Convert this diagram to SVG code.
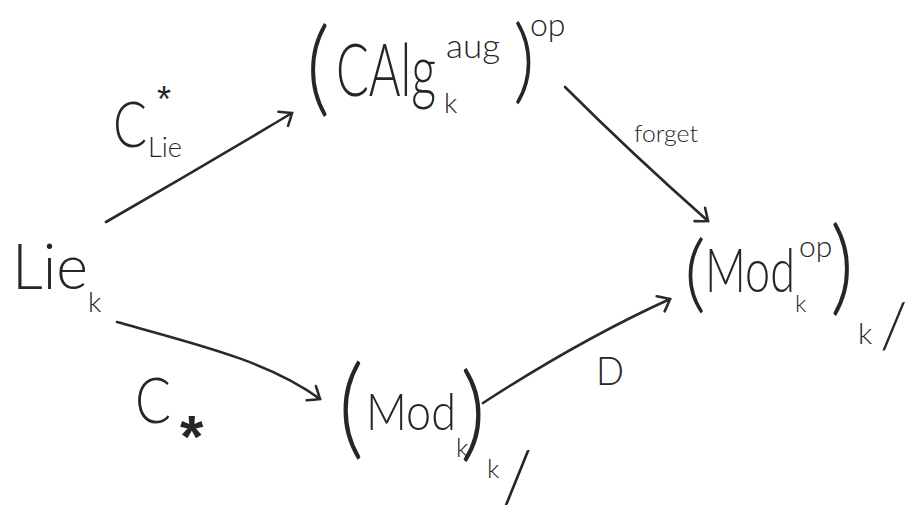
<svg xmlns="http://www.w3.org/2000/svg" width="914" height="517" viewBox="0 0 914 517">
<defs>
<style>
.t{font-family:"Lato","Liberation Sans","DejaVu Sans",sans-serif;font-weight:300;fill:#262626;}
.p{font-family:"Lato","Liberation Sans","DejaVu Sans",sans-serif;font-weight:300;fill:#262626;}
.s{font-family:"Liberation Sans","DejaVu Sans",sans-serif;fill:#262626;}
.c{fill:none;stroke:#2a2a2a;stroke-width:2.6;stroke-linecap:round;stroke-linejoin:round;}
</style>
<marker id="ah" markerUnits="userSpaceOnUse" markerWidth="30" markerHeight="30" viewBox="-15 -15 30 30" refX="0" refY="0" orient="auto">
<path d="M-11,-8 Q-4,-3 0,0 Q-4,4 -10,9" fill="none" stroke="#2a2a2a" stroke-width="2.6" stroke-linecap="round"/>
</marker>
</defs>
<rect width="914" height="517" fill="#ffffff"/>

<g id="lie">
<text class="t" x="12" y="289" font-size="64" textLength="76" lengthAdjust="spacingAndGlyphs">Lie</text>
<text class="t" x="88" y="312" font-size="28">k</text>
</g>

<g id="calg">
<text class="p" x="306" y="103" font-size="105" textLength="24" lengthAdjust="spacingAndGlyphs">(</text>
<text class="t" x="336" y="96" font-size="72" textLength="100" lengthAdjust="spacingAndGlyphs">CAlg</text>
<text class="t" x="444" y="113" font-size="28">k</text>
<text class="t" x="446" y="58" font-size="34" textLength="54" lengthAdjust="spacingAndGlyphs">aug</text>
<text class="p" x="513" y="92" font-size="92" textLength="22" lengthAdjust="spacingAndGlyphs">)</text>
<text class="t" x="530" y="36" font-size="32">op</text>
</g>

<g id="modop">
<text class="p" x="684" y="302" font-size="85" textLength="22" lengthAdjust="spacingAndGlyphs">(</text>
<text class="t" x="705" y="292" font-size="62" textLength="90" lengthAdjust="spacingAndGlyphs">Mod</text>
<text class="t" x="799" y="257" font-size="30">op</text>
<text class="t" x="795" y="312" font-size="24">k</text>
<text class="p" x="830" y="302" font-size="105" textLength="24" lengthAdjust="spacingAndGlyphs">)</text>
<text class="t" x="858" y="344" font-size="30">k</text>
<text class="t" x="880" y="348" font-size="63">/</text>
</g>

<g id="mod">
<text class="p" x="338" y="445" font-size="110" textLength="26" lengthAdjust="spacingAndGlyphs">(</text>
<text class="t" x="366" y="430" font-size="52" textLength="90" lengthAdjust="spacingAndGlyphs">Mod</text>
<text class="t" x="456" y="457" font-size="26">k</text>
<text class="p" x="460" y="448" font-size="105" textLength="26" lengthAdjust="spacingAndGlyphs">)</text>
<text class="t" x="487" y="478" font-size="26">k</text>
<text class="t" x="502" y="502" font-size="70">/</text>
</g>

<g id="connectors">
<path class="c" d="M106,222 Q200,168 292,113" marker-end="url(#ah)"/>
<path class="c" d="M565,87 Q630,152 708,221" marker-end="url(#ah)"/>
<path class="c" d="M117,322 C200,345 270,362 320,399" marker-end="url(#ah)"/>
<path class="c" d="M483,403 Q580,340 670,299" marker-end="url(#ah)"/>
</g>

<g id="labels">
<text class="t" x="113" y="147" font-size="64" textLength="34" lengthAdjust="spacingAndGlyphs">C</text>
<text class="s" x="157" y="112" font-size="36">*</text>
<text class="t" x="148" y="157" font-size="28" textLength="34" lengthAdjust="spacingAndGlyphs">Lie</text>
<text class="t" x="634" y="142" font-size="24" textLength="64" lengthAdjust="spacingAndGlyphs">forget</text>
<text class="t" x="135" y="423" font-size="64" textLength="36" lengthAdjust="spacingAndGlyphs">C</text>
<text class="s" x="180" y="457" font-size="60" font-weight="bold">*</text>
<text class="t" x="596" y="385" font-size="40" textLength="28" lengthAdjust="spacingAndGlyphs">D</text>
</g>
</svg>
